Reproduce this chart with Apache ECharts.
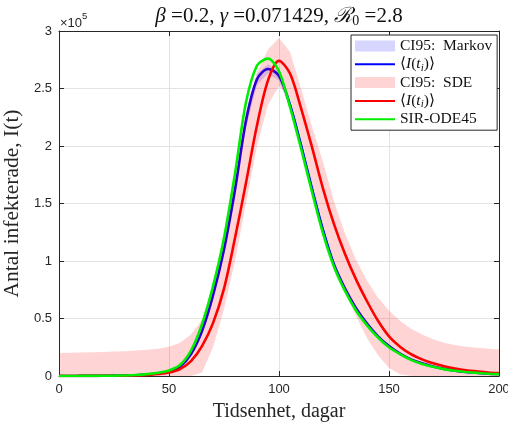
<!DOCTYPE html>
<html><head><meta charset="utf-8">
<script src="https://cdn.jsdelivr.net/npm/echarts@6/dist/echarts.min.js"></script>
<style>html,body{margin:0;padding:0;background:#fff}#c{width:508px;height:425px}</style>
</head><body><div id="c"></div>
<script>
// time grid (days)
const t = [0,5,10,15,20,25,30,35,40,45,50,55,60,65,70,75,80,85,90,95,100,105,110,115,120,125,130,135,140,145,150,155,160,165,170,175,180,185,190,195,200];
// values in units of 1e5 infected
const odeI = [0.000,0.000,0.001,0.001,0.002,0.003,0.005,0.009,0.016,0.028,0.048,0.095,0.22,0.45,0.78,1.20,1.76,2.38,2.70,2.76,2.65,2.34,1.98,1.60,1.24,0.95,0.74,0.57,0.44,0.335,0.25,0.19,0.14,0.105,0.080,0.060,0.045,0.035,0.027,0.020,0.016];
const markovMean = [0,0,0.001,0.001,0.002,0.003,0.004,0.007,0.013,0.024,0.040,0.080,0.19,0.39,0.70,1.10,1.62,2.22,2.58,2.67,2.61,2.36,2.01,1.63,1.27,0.97,0.76,0.59,0.455,0.345,0.26,0.195,0.145,0.11,0.083,0.062,0.047,0.036,0.028,0.021,0.017];
const markovLo = [0,0,0,0,0.001,0.002,0.003,0.005,0.010,0.019,0.033,0.068,0.17,0.36,0.66,1.05,1.56,2.16,2.53,2.63,2.57,2.32,1.97,1.60,1.24,0.95,0.74,0.57,0.44,0.335,0.25,0.187,0.139,0.105,0.079,0.059,0.044,0.034,0.026,0.019,0.015];
const markovHi = [0.001,0.001,0.002,0.002,0.003,0.004,0.005,0.009,0.016,0.029,0.047,0.092,0.21,0.42,0.74,1.15,1.68,2.28,2.63,2.71,2.65,2.40,2.05,1.66,1.30,0.99,0.78,0.61,0.47,0.355,0.27,0.203,0.151,0.115,0.087,0.065,0.050,0.038,0.030,0.023,0.019];
const sdeMean = [0,0,0.001,0.001,0.002,0.002,0.003,0.005,0.009,0.017,0.030,0.060,0.13,0.26,0.46,0.76,1.20,1.68,2.18,2.57,2.74,2.63,2.33,1.99,1.63,1.32,1.06,0.84,0.65,0.48,0.345,0.255,0.19,0.145,0.11,0.085,0.065,0.05,0.04,0.031,0.025];
const sdeLo = [0,0,0,0,0,0,0,0,0,0,0,0,0,0.03,0.25,0.58,1.00,1.50,2.00,2.36,2.52,2.42,2.08,1.68,1.32,1.00,0.74,0.52,0.33,0.18,0.07,0.015,0,0,0,0,0,0,0,0,0];
const sdeHi = [0.200,0.202,0.204,0.206,0.209,0.212,0.216,0.221,0.228,0.238,0.255,0.29,0.36,0.49,0.80,1.22,1.76,2.30,2.64,2.84,2.94,2.82,2.50,2.17,1.86,1.52,1.24,1.01,0.83,0.68,0.57,0.48,0.41,0.36,0.32,0.29,0.27,0.255,0.245,0.237,0.230];
const xTickLabels = ['0','50','100','150','200'];
const yTickLabels = ['0','0.5','1','1.5','2','2.5','3'];
const legendLabels = {
  'CI95: Markov': 'CI95:  Markov',
  'markovMean': '⟨{it|I}({it|t}{sub|i})⟩',
  'CI95: SDE': 'CI95:  SDE',
  'sdeMean': '⟨{it|I}({it|t}{sub|i})⟩',
  'SIR-ODE45': 'SIR-ODE45'
};

const SERIF = "'Liberation Serif','DejaVu Serif',serif";
const SANS = "'Liberation Sans',Arial,sans-serif";
const AX = '#262626';

function pairs(xs, ys) { return xs.map((x, i) => [x, ys[i]]); }
function triples(xs, lo, hi) { return xs.map((x, i) => [x, lo[i], hi[i]]); }

function bandRender(params, api) {
  if (params.dataIndexInside !== 0) return null;
  const n = params.dataInsideLength;
  const up = [], dn = [];
  for (let i = 0; i < n; i++) {
    up.push(api.coord([api.value(0, i), api.value(2, i)]));
    dn.push(api.coord([api.value(0, i), api.value(1, i)]));
  }
  return {
    type: 'polygon',
    shape: { points: up.concat(dn.reverse()) },
    style: { fill: api.visual('color'), stroke: null }
  };
}

const chart = echarts.init(document.getElementById('c'), null, { renderer: 'canvas' });
const axisCommon = {
  type: 'value',
  axisLine: { show: true, onZero: false, lineStyle: { color: AX, width: 1 } },
  axisTick: { show: true, inside: true, length: 5, lineStyle: { color: AX, width: 1 } }
};
chart.setOption({
  animation: false,
  backgroundColor: '#fff',
  title: {
    text: '{i|β} =0.2, {i|γ} =0.071429, {i|ℛ}{sub|0} =2.8',
    left: 274, top: -1, textAlign: 'center',
    textStyle: {
      fontFamily: SERIF, fontSize: 21, fontWeight: 'normal', color: '#111', lineHeight: 24,
      rich: {
        i: { fontFamily: SERIF, fontSize: 21, fontStyle: 'italic', color: '#111', lineHeight: 24 },
        sub: { fontFamily: SERIF, fontSize: 14, color: '#111', lineHeight: 10, verticalAlign: 'bottom' }
      }
    }
  },
  grid: { left: 59, right: 9, top: 31, bottom: 49, containLabel: false, outerBoundsMode: 'none' },
  xAxis: [
    Object.assign({}, axisCommon, {
      position: 'bottom', min: 0, max: 200, interval: 50,
      axisLabel: { color: AX, fontFamily: SANS, fontSize: 13, margin: 7,
        formatter: v => xTickLabels[Math.round(v / 50)] },
      splitLine: { show: true, lineStyle: { color: '#e3e3e3', width: 1 } },
      name: 'Tidsenhet, dagar', nameLocation: 'middle', nameGap: 26,
      nameTextStyle: { fontFamily: SERIF, fontSize: 20, color: AX }
    }),
    Object.assign({}, axisCommon, {
      position: 'top', min: 0, max: 200, interval: 50,
      axisLabel: { show: false }, splitLine: { show: false }
    })
  ],
  yAxis: [
    Object.assign({}, axisCommon, {
      position: 'left', min: 0, max: 3, interval: 0.5,
      axisLabel: { color: AX, fontFamily: SANS, fontSize: 13, margin: 7,
        formatter: v => yTickLabels[Math.round(v / 0.5)] },
      splitLine: { show: true, lineStyle: { color: '#e3e3e3', width: 1 } },
      name: 'Antal infekterade, I(t)', nameLocation: 'middle', nameGap: 33, nameRotate: 90,
      nameTextStyle: { fontFamily: SERIF, fontSize: 21.5, color: AX }
    }),
    Object.assign({}, axisCommon, {
      position: 'right', min: 0, max: 3, interval: 0.5,
      axisLabel: { show: false }, splitLine: { show: false }
    })
  ],
  legend: {
    orient: 'vertical', left: 351, top: 35,
    padding: [2, 5, 2, 3],
    itemWidth: 40, itemHeight: 11, itemGap: 0.3, itemTextGap: 4,
    backgroundColor: '#fff', borderColor: AX, borderWidth: 1,
    selectedMode: false,
    textStyle: {
      fontFamily: SERIF, fontSize: 15.5, color: '#111', lineHeight: 18,
      rich: {
        it: { fontFamily: SERIF, fontSize: 15.5, fontStyle: 'italic', color: '#111', lineHeight: 18 },
        sub: { fontFamily: SERIF, fontSize: 11, fontStyle: 'italic', color: '#111', lineHeight: 8, verticalAlign: 'bottom' }
      }
    },
    formatter: name => legendLabels[name],
    data: [
      { name: 'CI95: Markov', icon: 'rect' },
      { name: 'markovMean', itemStyle: { opacity: 0 } },
      { name: 'CI95: SDE', icon: 'rect' },
      { name: 'sdeMean', itemStyle: { opacity: 0 } },
      { name: 'SIR-ODE45', itemStyle: { opacity: 0 } }
    ]
  },
  series: [
    { name: 'CI95: Markov', type: 'custom', renderItem: bandRender, clip: true, z: 2,
      itemStyle: { color: 'rgba(0,0,255,0.16)' },
      encode: { x: 0, y: [1, 2] }, data: triples(t, markovLo, markovHi) },
    { name: 'markovMean', type: 'line', symbol: 'none', smooth: 0.3, z: 3,
      color: '#0000ff', lineStyle: { color: '#0000ff', width: 2.6 }, data: pairs(t, markovMean) },
    { name: 'CI95: SDE', type: 'custom', renderItem: bandRender, clip: true, z: 4,
      itemStyle: { color: 'rgba(255,0,0,0.17)' },
      encode: { x: 0, y: [1, 2] }, data: triples(t, sdeLo, sdeHi) },
    { name: 'sdeMean', type: 'line', symbol: 'none', smooth: 0.3, z: 5,
      color: '#ff0000', lineStyle: { color: '#ff0000', width: 2.6 }, data: pairs(t, sdeMean) },
    { name: 'SIR-ODE45', type: 'line', symbol: 'none', smooth: 0.3, z: 6,
      color: '#00ee00', lineStyle: { color: '#00ee00', width: 2.6 }, data: pairs(t, odeI) }
  ],
  graphic: [{
    type: 'text', left: 60, top: 11, z: 10,
    style: {
      text: '{a|×10}{b|5}',
      rich: {
        a: { fontFamily: SANS, fontSize: 13, fill: AX, lineHeight: 19, verticalAlign: 'bottom' },
        b: { fontFamily: SANS, fontSize: 9.5, fill: AX, lineHeight: 10, verticalAlign: 'top' }
      }
    }
  }]
});
</script></body></html>
